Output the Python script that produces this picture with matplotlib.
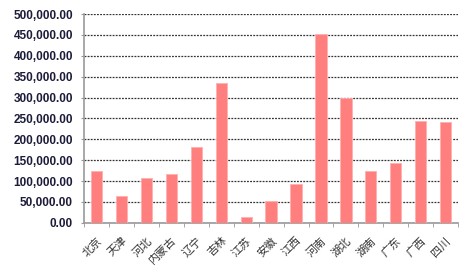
import matplotlib

matplotlib.use("Agg")
import matplotlib.pyplot as plt
from matplotlib.ticker import FuncFormatter, FixedLocator

provinces = ["北京", "天津", "河北", "内蒙古", "辽宁", "吉林", "江苏", "安徽",
             "江西", "河南", "湖北", "湖南", "广东", "广西", "四川"]
values = [125000, 64000, 108000, 116000, 182000, 334000, 13000, 52000,
          92000, 452000, 299000, 125000, 144000, 245000, 241000]
y_ticks = [0, 50000, 100000, 150000, 200000, 250000, 300000, 350000, 400000, 450000, 500000]

BAR_COLOR = "#ff7f7f"

fig = plt.figure(figsize=(4.67, 2.71), dpi=100)
ax = fig.add_axes([0.180, 0.178, 0.801, 0.770])

x = range(len(provinces))
ax.bar(x, values, width=0.45, color=BAR_COLOR, edgecolor="#ffb0b0", linewidth=0.6, zorder=3)

ax.set_xlim(-0.5, len(provinces) - 0.5)
ax.set_ylim(0, 500000)
ax.set_yticks(y_ticks)
ax.yaxis.set_major_formatter(FuncFormatter(lambda v, _: f"{v:,.2f}"))
ax.grid(axis="y", color="#333333", linestyle=(0, (1.5, 1)), linewidth=0.9, zorder=1)

# category labels rotated, ticks sit between the categories
ax.set_xticks(list(x))
ax.set_xticklabels(provinces, rotation=45, ha="right", va="top", rotation_mode="anchor",
                   fontsize=8, family=["Noto Sans CJK SC", "DejaVu Sans"], color="#333333")
ax.tick_params(axis="x", length=0, pad=9)
ax.xaxis.set_minor_locator(FixedLocator([i - 0.5 for i in range(len(provinces) + 1)]))
ax.tick_params(axis="x", which="minor", length=3, color="#999999", direction="out")

for lbl in ax.get_yticklabels():
    lbl.set_family("Liberation Sans")
    lbl.set_fontweight("bold")
ax.tick_params(axis="y", labelsize=8.5, length=2, color="#999999", labelcolor="#1c1c3a", pad=6)

for side in ["top", "right"]:
    ax.spines[side].set_visible(False)
ax.spines["left"].set_color("#999999")
ax.spines["bottom"].set_color("#999999")
ax.spines["left"].set_linewidth(1.2)
ax.spines["bottom"].set_linewidth(1.2)

fig.savefig("out.png", dpi=100)
plt.close(fig)
